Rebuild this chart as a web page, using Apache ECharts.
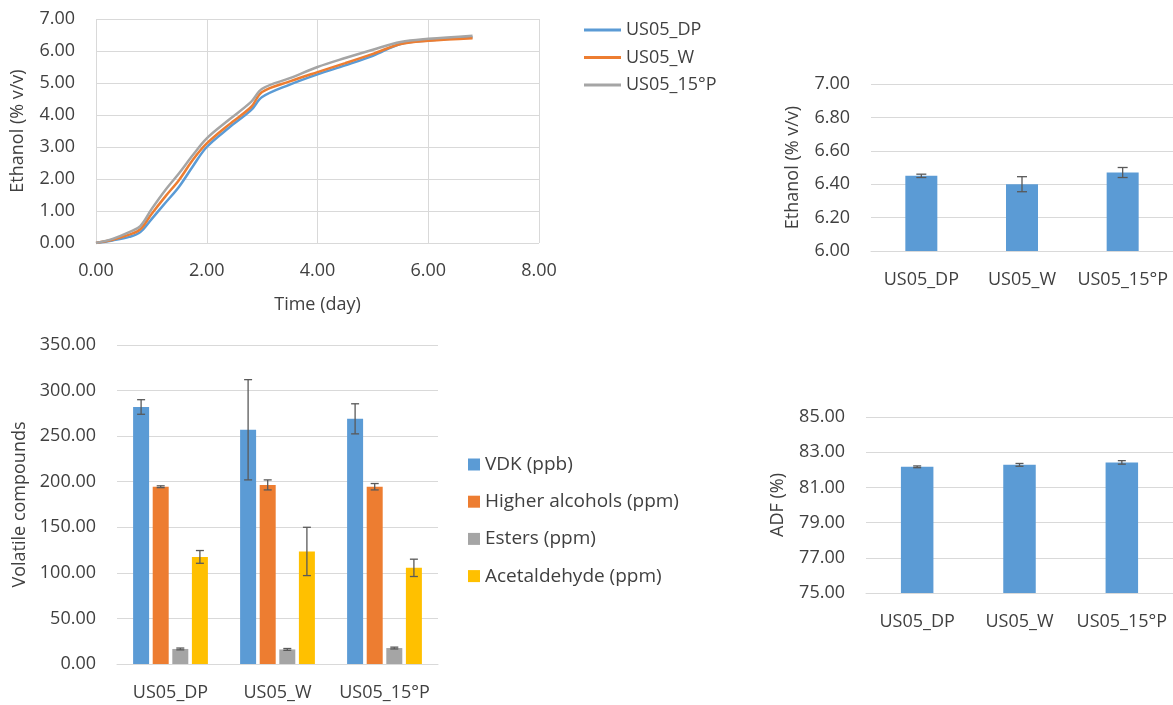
<!DOCTYPE html>
<html>
<head>
<meta charset="utf-8">
<script src="https://cdn.jsdelivr.net/npm/echarts@6/dist/echarts.min.js"></script>
<style>
  html, body { margin: 0; padding: 0; background: #fff; }
  #chart { width: 1173px; height: 705px; }
</style>
</head>
<body>
<div id="chart"></div>
<script>
// --- data ---
const strains = ['US05_DP', 'US05_W', 'US05_15°P'];

// ethanol over time (top left)
const timeDays = [0, 0.3, 0.6, 0.8, 1.0, 1.25, 1.5, 1.75, 2.0, 2.4, 2.8, 3.0, 3.5, 4.0, 4.5, 5.0, 5.5, 6.0, 6.8];
const ethanolDP = [0, 0.08, 0.19, 0.34, 0.74, 1.25, 1.76, 2.4, 3.0, 3.6, 4.15, 4.56, 4.95, 5.27, 5.55, 5.85, 6.22, 6.33, 6.43];
const ethanolW = [0, 0.1, 0.26, 0.43, 0.9, 1.45, 1.97, 2.6, 3.11, 3.7, 4.25, 4.72, 5.05, 5.34, 5.62, 5.91, 6.22, 6.32, 6.4];
const ethanol15P = [0, 0.13, 0.34, 0.53, 1.05, 1.65, 2.18, 2.75, 3.27, 3.85, 4.41, 4.82, 5.15, 5.5, 5.78, 6.04, 6.28, 6.38, 6.48];

// final ethanol (top right)
const finalEthanol = [6.45, 6.40, 6.47];
const finalEthanolErr = [0.01, 0.045, 0.03];

// volatile compounds (bottom left)
const volatileNames = ['VDK (ppb)', 'Higher alcohols (ppm)', 'Esters (ppm)', 'Acetaldehyde (ppm)'];
const vdk = [282, 257, 269];
const vdkErr = [8, 55, 16.5];
const higherAlcohols = [194.5, 196.5, 194.5];
const higherAlcoholsErr = [1, 5.5, 3.5];
const esters = [16.5, 16, 17.5];
const estersErr = [1, 1, 1];
const acetaldehyde = [117.5, 123.5, 105.5];
const acetaldehydeErr = [7, 26.5, 9.5];

// ADF (bottom right)
const adf = [82.17, 82.28, 82.42];
const adfErr = [0.05, 0.08, 0.1];

// --- styling ---
const blue = '#5B9BD5', orange = '#ED7D31', grey = '#A5A5A5', gold = '#FFC000';
const gridColor = '#D9D9D9';
const textColor = '#404040';
const font = '"Open Sans", sans-serif';
const fmt2 = v => v.toFixed(2);

const chart = echarts.init(document.getElementById('chart'), null, { renderer: 'canvas' });

function valueAxis(gridIndex, min, max, interval, name, nameGap) {
  return {
    type: 'value', gridIndex, min, max, interval,
    name, nameLocation: 'middle', nameGap, nameRotate: 90,
    nameTextStyle: { color: textColor, fontSize: 18, fontFamily: font },
    axisLine: { show: false },
    axisTick: { show: false },
    axisLabel: { color: textColor, fontSize: 18, fontFamily: font, margin: 21, formatter: fmt2 },
    splitLine: { lineStyle: { color: gridColor, width: 1 } },
  };
}

function categoryAxis(gridIndex) {
  return {
    type: 'category', gridIndex, data: strains,
    axisLine: { lineStyle: { color: gridColor, width: 1 } },
    axisTick: { show: false },
    axisLabel: { color: textColor, fontSize: 18, fontFamily: font, margin: 20, interval: 0, hideOverlap: false },
  };
}

function errorBars(xAxisIndex, yAxisIndex, values, errors, offset, cap) {
  return {
    type: 'custom', xAxisIndex, yAxisIndex, silent: true, z: 5,
    data: values.map((v, i) => [i, v, errors[i]]),
    encode: { x: 0, y: 1 },
    renderItem: (params, api) => {
      const i = api.value(0), v = api.value(1), e = api.value(2);
      const hi = api.coord([i, v + e]);
      const lo = api.coord([i, v - e]);
      const x = hi[0] + offset;
      const style = { stroke: '#595959', lineWidth: 1.3 };
      return {
        type: 'group',
        children: [
          { type: 'line', shape: { x1: x, y1: hi[1], x2: x, y2: lo[1] }, style },
          { type: 'line', shape: { x1: x - cap, y1: hi[1], x2: x + cap, y2: hi[1] }, style },
          { type: 'line', shape: { x1: x - cap, y1: lo[1], x2: x + cap, y2: lo[1] }, style },
        ],
      };
    },
  };
}

function lineSeries(name, ys, color) {
  return {
    name, type: 'line', xAxisIndex: 0, yAxisIndex: 0,
    data: timeDays.map((t, i) => [t, ys[i]]),
    symbol: 'none', smooth: 0.35,
    lineStyle: { color, width: 2.5 },
    itemStyle: { color },
  };
}

// grouped bar geometry (bottom left)
const groupBarWidth = 16;
const groupBarStep = 19.6;
const groupOffset = k => (k - 1.5) * groupBarStep;

const volatileSets = [
  [vdk, vdkErr, blue],
  [higherAlcohols, higherAlcoholsErr, orange],
  [esters, estersErr, grey],
  [acetaldehyde, acetaldehydeErr, gold],
];

const option = {
  animation: false,
  textStyle: { fontFamily: font },
  grid: [
    { left: 96, top: 19, width: 443, height: 224 },
    { left: 871, top: 84, width: 303, height: 167 },
    { left: 117, top: 345, width: 321, height: 319 },
    { left: 866, top: 417, width: 311, height: 176 },
  ],
  legend: [
    {
      orient: 'vertical', left: 579, top: 16,
      icon: 'rect', itemWidth: 37, itemHeight: 3, itemGap: 9.5,
      textStyle: { color: textColor, fontSize: 18, fontFamily: font },
      data: ['US05_DP', 'US05_W', 'US05_15°P'],
    },
    {
      orient: 'vertical', left: 463, top: 450,
      itemWidth: 12, itemHeight: 12, itemGap: 18.2,
      icon: 'rect',
      textStyle: { color: textColor, fontSize: 19, fontFamily: font },
      data: volatileNames,
    },
  ],
  xAxis: [
    {
      type: 'value', gridIndex: 0, min: 0, max: 8, interval: 2,
      name: 'Time (day)', nameLocation: 'middle', nameGap: 53,
      nameTextStyle: { color: textColor, fontSize: 18, fontFamily: font },
      axisLine: { show: false },
      axisTick: { show: false },
      axisLabel: { color: textColor, fontSize: 18, fontFamily: font, margin: 19, formatter: fmt2 },
      splitLine: { lineStyle: { color: gridColor, width: 1 } },
    },
    categoryAxis(1),
    categoryAxis(2),
    categoryAxis(3),
  ],
  yAxis: [
    valueAxis(0, 0, 7, 1, 'Ethanol (% v/v)', 69),
    valueAxis(1, 6, 7, 0.2, 'Ethanol (% v/v)', 69),
    valueAxis(2, 0, 350, 50, 'Volatile compounds', 88),
    valueAxis(3, 75, 85, 2, 'ADF (%)', 79),
  ],
  series: [
    lineSeries('US05_DP', ethanolDP, blue),
    lineSeries('US05_W', ethanolW, orange),
    lineSeries('US05_15°P', ethanol15P, grey),

    {
      type: 'bar', xAxisIndex: 1, yAxisIndex: 1, data: finalEthanol,
      barWidth: 32, itemStyle: { color: blue },
    },
    errorBars(1, 1, finalEthanol, finalEthanolErr, 0, 5),

    ...volatileSets.map(([vals, , color], k) => ({
      name: volatileNames[k], type: 'bar', xAxisIndex: 2, yAxisIndex: 2, data: vals,
      barWidth: groupBarWidth, barGap: '22.5%', itemStyle: { color },
    })),
    ...volatileSets.map(([vals, errs], k) => errorBars(2, 2, vals, errs, groupOffset(k), 4)),

    {
      type: 'bar', xAxisIndex: 3, yAxisIndex: 3, data: adf,
      barWidth: 32.5, itemStyle: { color: blue },
    },
    errorBars(3, 3, adf, adfErr, 0, 4),
  ],
};

chart.setOption(option);
</script>
</body>
</html>
